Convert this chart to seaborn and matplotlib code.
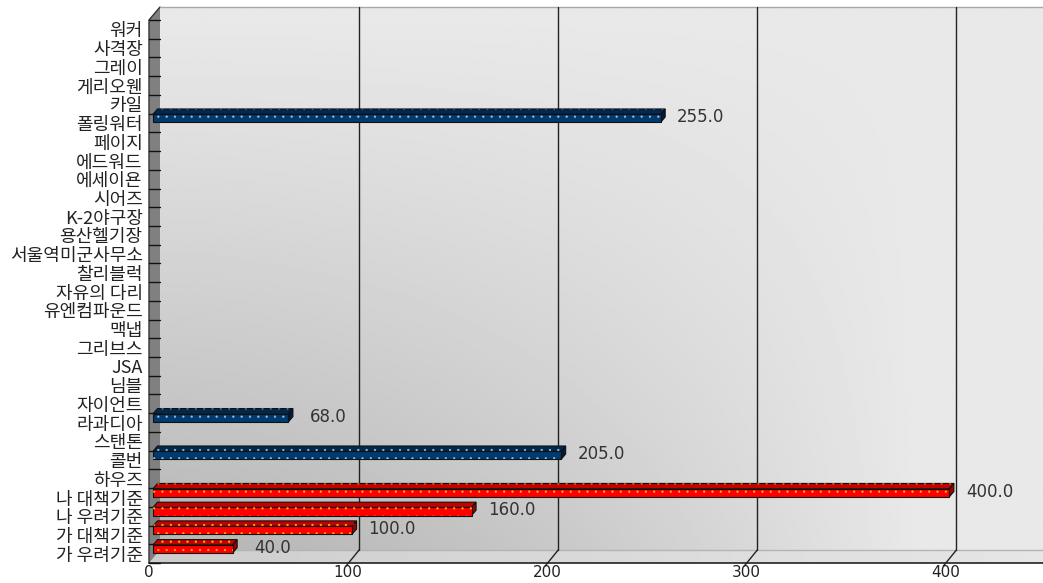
import numpy as np
import pandas as pd
import matplotlib
matplotlib.use("Agg")
import matplotlib.pyplot as plt
from matplotlib.patches import Polygon, Rectangle
from matplotlib.transforms import ScaledTranslation
import seaborn as sns

# Category axis, top to bottom
categories = ["워커", "사격장", "그레이", "게리오웬", "카일", "폴링워터", "페이지",
              "에드워드", "에세이욘", "시어즈", "K-2야구장", "용산헬기장",
              "서울역미군사무소", "찰리블럭", "자유의 다리", "유엔컴파운드", "맥냅",
              "그리브스", "JSA", "님블", "자이언트", "라과디아", "스탠톤", "콜번",
              "하우즈", "나 대책기준", "나 우려기준", "가 대책기준", "가 우려기준"]

# Measured sites and reference standards
bar_names = ["폴링워터", "라과디아", "콜번",
             "나 대책기준", "나 우려기준", "가 대책기준", "가 우려기준"]
bar_values = [255.0, 68.0, 205.0, 400.0, 160.0, 100.0, 40.0]
bar_groups = ["site", "site", "site", "standard", "standard", "standard", "standard"]
x_ticks = [0, 100, 200, 300, 400]

front_col = {"site": "#003a6e", "standard": "#ff0000"}
top_col = {"site": "#002850", "standard": "#c40000"}
side_col = {"site": "#001c3a", "standard": "#9a0000"}
dot_col = {"site": "#9cbcdc", "standard": "#f0c000"}

sns.set_theme(style="white")
plt.rcParams["font.family"] = ["Noto Sans CJK KR", "DejaVu Sans"]
plt.rcParams["hatch.linewidth"] = 0.4

W, H, DPI = 1043, 583, 100
fig = plt.figure(figsize=(W / DPI, H / DPI), dpi=DPI)
fig.patch.set_facecolor("white")

# front plane of the 3D box, in pixels (origin bottom-left)
FX0, FX1, FYB, FYT = 149, 1043, 20, 563
DX, DY = 11, 13  # depth of the box

# background layer in pixel coordinates
ax_bg = fig.add_axes([0, 0, 1, 1], zorder=0)
ax_bg.set_xlim(0, W)
ax_bg.set_ylim(0, H)
ax_bg.axis("off")

ax = fig.add_axes([FX0 / W, FYB / H, (FX1 - FX0) / W, (FYT - FYB) / H], zorder=1)
ax.set_facecolor("none")

df = pd.DataFrame({"name": bar_names, "value": bar_values, "group": bar_groups})
sns.barplot(data=df, x="value", y="name", hue="group", order=categories,
            palette=front_col, dodge=False, width=0.43, orient="h", legend=False,
            saturation=1, edgecolor="#111111", linewidth=0.8, ax=ax)

ax.set_xlim(0, (FX1 - FX0) / 1.991)
ax.set_ylim(len(categories) - 0.5, -0.5)
ax.set_xticks(x_ticks)
ax.set_xticklabels([str(t) for t in x_ticks], family="DejaVu Sans")
ax.set_xlabel("")
ax.set_ylabel("")
for s in ax.spines.values():
    s.set_visible(False)
ax.tick_params(axis="y", length=0, pad=4.5, labelsize=13, labelcolor="#222222")
ax.tick_params(axis="x", length=0, pad=1.5, labelsize=11, labelcolor="#222222")

# ---- back wall with soft shading ----
gh, gw = 200, 300
v = np.linspace(0, 1, gh)[:, None]
u = np.linspace(0, 1, gw)[None, :]
fu = np.clip(1 - (u / 0.85) ** 1.6, 0, 1)
wall = 233 - 50 * fu * v ** 1.1
ax_bg.imshow(wall, cmap="gray", vmin=0, vmax=255, aspect="auto",
             interpolation="bilinear", origin="upper",
             extent=[FX0 + DX, FX1 + DX, FYB + DY, FYT + DY], zorder=0)

# floor
floor_poly = Polygon([(FX0, FYB), (FX1 + DX, FYB), (FX1 + DX, FYB + DY), (FX0 + DX, FYB + DY)],
                     closed=True, facecolor="none", edgecolor="none")
ax_bg.add_patch(floor_poly)
fl = np.tile(np.linspace(205, 230, 300)[None, :], (10, 1))
fl_im = ax_bg.imshow(fl, cmap="gray", vmin=0, vmax=255, aspect="auto",
                     interpolation="bilinear", origin="upper",
                     extent=[FX0, FX1 + DX, FYB, FYB + DY], zorder=1)
fl_im.set_clip_path(floor_poly)
ax_bg.plot([FX0 + DX, FX1 + DX], [FYB + DY, FYB + DY], color="#b4b4b4", lw=1, zorder=2)

# left wall
ax_bg.add_patch(Polygon([(FX0, FYB), (FX0, FYT), (FX0 + DX, FYT + DY), (FX0 + DX, FYB + DY)],
                        closed=True, facecolor="#808080", edgecolor="none", zorder=2))
ax_bg.plot([FX0, FX0, FX0 + DX], [FYB, FYT, FYT + DY], color="#333333", lw=1, zorder=3)
ax_bg.plot([FX0 + DX, FX1], [FYT + DY, FYT + DY], color="#a8a8a8", lw=1, zorder=3)
ax_bg.plot([FX0, FX1], [FYB, FYB], color="#222222", lw=1.2, zorder=3)

# category boundary ticks on the left wall
for k in range(len(categories) + 1):
    yk = ax.transData.transform((0, k - 0.5))[1]
    ax_bg.plot([FX0, FX0 + DX], [yk, yk], color="#111111", lw=1, zorder=3)

# value grid lines on the back wall and floor
for t in x_ticks[1:]:
    xp = ax.transData.transform((t, 0))[0]
    ax_bg.plot([xp + DX, xp + DX], [FYB + DY, FYT + DY], color="#222222", lw=1, zorder=3)
    ax_bg.plot([xp + DX, xp - 2], [FYB + DY, FYB - 3], color="#222222", lw=1, zorder=3)

# ---- 3D faces for the bars ----
bbox = ax.get_window_extent()
x_lo, x_hi = ax.get_xlim()
sx = bbox.width / (x_hi - x_lo)
sy = bbox.height / len(categories)
shift = ScaledTranslation(4 / DPI, 4.7 / DPI, fig.dpi_scale_trans)
T = ax.transData + shift
ddx, ddy = 4.5 / sx, -5.3 / sy
group_of = dict(zip(bar_names, bar_groups))
value_of = dict(zip(bar_names, bar_values))

for p in list(ax.patches):
    w = p.get_width()
    if not np.isfinite(w) or w <= 0:
        continue
    yc = p.get_y() + p.get_height() / 2
    name = categories[int(round(yc))]
    g = group_of[name]
    x0 = p.get_x()
    x1 = x0 + w
    yt = p.get_y()
    yb = yt + p.get_height()
    p.set_transform(T)
    p.set_zorder(3)
    top = Polygon([(x0, yt), (x1, yt), (x1 + ddx, yt + ddy), (x0 + ddx, yt + ddy)],
                  closed=True, facecolor=top_col[g], edgecolor="#111111", lw=0.8,
                  transform=T, zorder=2.5)
    side = Polygon([(x1, yt), (x1 + ddx, yt + ddy), (x1 + ddx, yb + ddy), (x1, yb)],
                   closed=True, facecolor=side_col[g], edgecolor="#111111", lw=0.8,
                   transform=T, zorder=2.5)
    ax.add_patch(top)
    ax.add_patch(side)
    ax.add_patch(Rectangle((x0, yt), w, yb - yt, fill=False, hatch="..",
                           edgecolor=dot_col[g], lw=0, transform=T, zorder=3.5))
    ax.add_patch(Polygon([(x0, yt), (x1, yt), (x1 + ddx, yt + ddy), (x0 + ddx, yt + ddy)],
                         closed=True, fill=False, hatch="..", edgecolor=dot_col[g],
                         lw=0, transform=T, zorder=2.6))
    ax.annotate(f"{value_of[name]:.1f}", xy=(x1, yc), xycoords=T,
                xytext=(40, 1), textcoords="offset pixels",
                ha="center", va="center", fontsize=12, family="DejaVu Sans",
                color="#333333", annotation_clip=False)

fig.savefig("out.png", dpi=DPI)
